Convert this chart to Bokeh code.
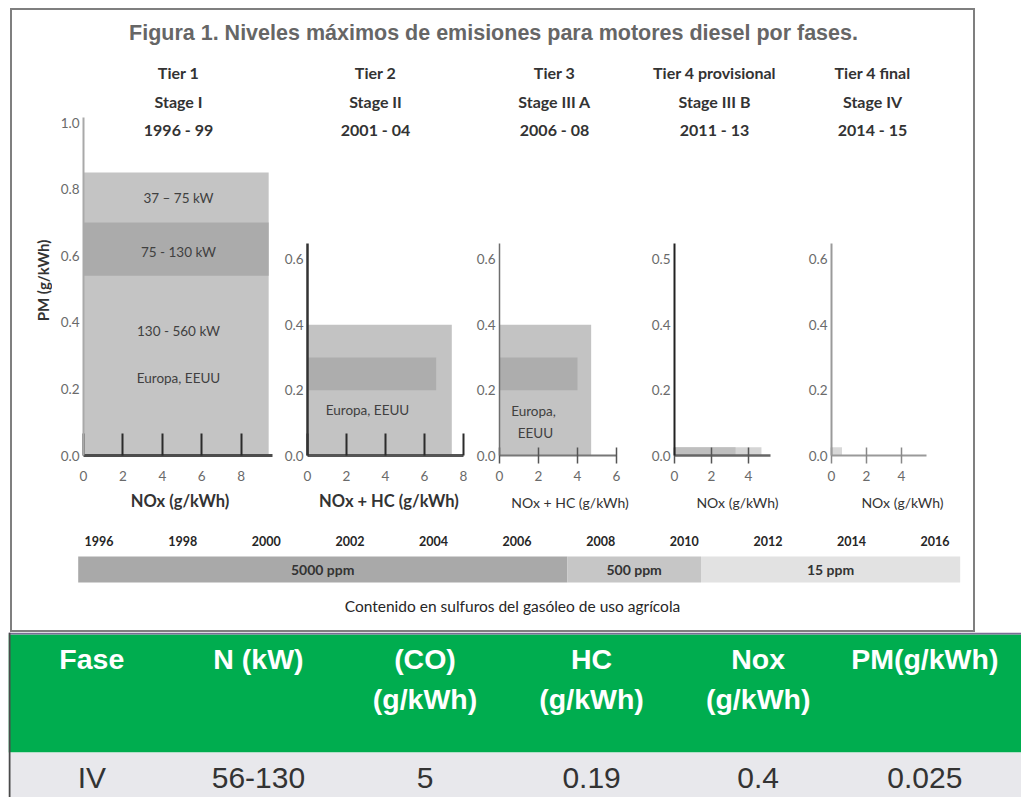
import math
from bokeh.plotting import figure
from bokeh.models import Range1d, FixedTicker, NumeralTickFormatter, Label, Spacer
from bokeh.layouts import row, column
from bokeh.embed import file_html
from bokeh.resources import INLINE
from bokeh.core.properties import value

# ---------------- data ----------------
title_text = "Figura 1. Niveles máximos de emisiones para motores diesel por fases."
tiers = ["Tier 1", "Tier 2", "Tier 3", "Tier 4 provisional", "Tier 4 final"]
stages = ["Stage I", "Stage II", "Stage III A", "Stage III B", "Stage IV"]
periods = ["1996 - 99", "2001 - 04", "2006 - 08", "2011 - 13", "2014 - 15"]
x_titles = ["NOx (g/kWh)", "NOx + HC (g/kWh)", "NOx + HC (g/kWh)", "NOx (g/kWh)", "NOx (g/kWh)"]
y_title = "PM (g/kWh)"

stage1_nox = [9.4, 9.4]
stage1_pm_low = [0.0, 0.54]
stage1_pm_high = [0.85, 0.70]
stage1_notes = ["37 – 75 kW", "75 - 130 kW", "130 - 560 kW", "Europa, EEUU"]

stage2_nox = [7.4, 6.6]
stage2_pm_low = [0.0, 0.2]
stage2_pm_high = [0.4, 0.3]
stage2_notes = ["Europa, EEUU"]

stage3a_nox = [4.7, 4.0]
stage3a_pm_low = [0.0, 0.2]
stage3a_pm_high = [0.4, 0.3]
stage3a_notes = ["Europa,", "EEUU"]

stage3b_nox = [4.7, 3.3]
stage3b_pm_low = [0.0, 0.0]
stage3b_pm_high = [0.025, 0.025]

stage4_nox = [0.6]
stage4_pm_low = [0.0]
stage4_pm_high = [0.025]

x_ticks = [[0, 2, 4, 6, 8], [0, 2, 4, 6, 8], [0, 2, 4, 6], [0, 2, 4], [0, 2, 4]]
y_ticks_big = [0.0, 0.2, 0.4, 0.6, 0.8, 1.0]
y_ticks_small = [0.0, 0.2, 0.4, 0.6]

years = [1996, 1998, 2000, 2002, 2004, 2006, 2008, 2010, 2012, 2014, 2016]
sulfur_labels = ["5000 ppm", "500 ppm", "15 ppm"]
sulfur_from = [1995.5, 2007.2, 2010.4]
sulfur_to = [2007.2, 2010.4, 2016.6]
sulfur_caption = "Contenido en sulfuros del gasóleo de uso agrícola"

table_header = ["Fase", "N (kW)", "(CO)\n(g/kWh)", "HC\n(g/kWh)", "Nox\n(g/kWh)", "PM(g/kWh)"]
table_values = ["IV", "56-130", "5", "0.19", "0.4", "0.025"]

# ---------------- layout / style ----------------
FONT = "Lato"
NARROW = "Liberation Sans"
AXIS_Y = 455
PANEL_TOP = 48
SMALL_TOP = 140
PANEL_BOTTOM = 520

panel_cfg = [
    dict(left=52, width=224, axis=83, sx=19.7, sy=333.0, xb=9.6, yb=1.015, hx=178,
         yline=("#a9a9a9", 2), xline=("#4d4d4d", 3), tin=22, tout=0, tcol="#2b2b2b",
         xl_size="16.5px", xl_style="bold", colors=["#c4c4c4", "#ababab"]),
    dict(left=276, width=194, axis=307, sx=19.5, sy=326.7, xb=8.0, yb=0.649, hx=375,
         yline=("#333333", 2.5), xline=("#555555", 3), tin=22, tout=0, tcol="#2b2b2b",
         xl_size="16.5px", xl_style="bold", colors=["#c3c3c3", "#adadad"]),
    dict(left=470, width=170, axis=499, sx=19.5, sy=326.7, xb=6.0, yb=0.649, hx=554,
         yline=("#6e6e6e", 1.5), xline=("#777777", 2), tin=8, tout=8, tcol="#555555",
         xl_size="14px", xl_style="normal", colors=["#c3c3c3", "#adadad"]),
    dict(left=640, width=160, axis=674, sx=18.5, sy=326.7, xb=5.2, yb=0.649, hx=714,
         yline=("#222222", 2), xline=("#666666", 2.5), tin=8, tout=8, tcol="#555555",
         xl_size="14px", xl_style="normal", colors=["#d5d5d5", "#bfbfbf"]),
    dict(left=800, width=173, axis=831, sx=17.5, sy=326.7, xb=5.4, yb=0.649, hx=872,
         yline=("#9a9a9a", 2), xline=("#9a9a9a", 2), tin=8, tout=8, tcol="#888888",
         xl_size="14px", xl_style="normal", colors=["#d8d8d8"]),
]
boxes = [
    (stage1_nox, stage1_pm_low, stage1_pm_high),
    (stage2_nox, stage2_pm_low, stage2_pm_high),
    (stage3a_nox, stage3a_pm_low, stage3a_pm_high),
    (stage3b_nox, stage3b_pm_low, stage3b_pm_high),
    (stage4_nox, stage4_pm_low, stage4_pm_high),
]
note_pos = [
    (stage1_notes, [(178, 197), (178, 251), (178, 330), (178, 377)]),
    (stage2_notes, [(367, 409)]),
    (stage3a_notes, [(533, 410), (535, 432)]),
    ([], []),
    ([], []),
]
header_y = [72, 101, 129]
HEAD_SIZE = "16px"


def bare(p):
    p.xgrid.visible = False
    p.ygrid.visible = False
    p.outline_line_color = None
    p.background_fill_color = "white"
    p.border_fill_color = "white"


def strip(width, height, x0, x1, x_range=None):
    p = figure(width=width, height=height,
               x_range=x_range if x_range is not None else Range1d(x0, x1),
               y_range=Range1d(0, height), x_axis_type=None, y_axis_type=None,
               min_border=0, title=None, output_backend="svg", toolbar_location=None)
    bare(p)
    return p


panel_figs = []
for i, cfg in enumerate(panel_cfg):
    top = PANEL_TOP if i == 0 else SMALL_TOP
    ml = cfg["axis"] - cfg["left"]
    frame_w = cfg["width"] - ml
    frame_h = AXIS_Y - top
    p = figure(width=cfg["width"], height=PANEL_BOTTOM - top,
               x_range=Range1d(0, frame_w / cfg["sx"]), y_range=Range1d(0, frame_h / cfg["sy"]),
               min_border_left=ml, min_border_right=0, min_border_top=0,
               min_border_bottom=PANEL_BOTTOM - AXIS_Y, title=None,
               output_backend="svg", toolbar_location=None)
    bare(p)
    nox, lo, hi = boxes[i]
    p.quad(left=[0] * len(nox), right=nox, bottom=lo, top=hi,
           fill_color=cfg["colors"][:len(nox)], line_color=None)

    def to_data(px, py, cfg=cfg):
        return (px - cfg["axis"]) / cfg["sx"], (AXIS_Y - py) / cfg["sy"]

    notes, pos = note_pos[i]
    if notes:
        p.text(x=[to_data(*q)[0] for q in pos], y=[to_data(*q)[1] for q in pos], text=notes,
               text_align="center", text_baseline="middle",
               text_font=value(FONT), text_font_size="13.5px", text_color="#404040")

    if i == 0:
        for line_txt, py in zip([tiers[i], stages[i], periods[i]], header_y):
            hx, hy = to_data(cfg["hx"], py)
            p.add_layout(Label(x=hx, y=hy, text=line_txt, text_align="center",
                               text_baseline="middle", text_font=FONT, text_font_style="bold",
                               text_font_size=HEAD_SIZE, text_color="#333333"))

    xa = p.xaxis[0]
    xa.bounds = (0, cfg["xb"])
    xa.ticker = FixedTicker(ticks=x_ticks[i])
    xa.axis_line_color = cfg["xline"][0]
    xa.axis_line_width = cfg["xline"][1]
    xa.major_tick_in = cfg["tin"]
    xa.major_tick_out = cfg["tout"]
    xa.major_tick_line_color = cfg["tcol"]
    xa.major_tick_line_width = 2 if cfg["tin"] > 10 else 1.5
    xa.minor_tick_line_color = None
    xa.major_label_text_font = FONT
    xa.major_label_text_font_size = "13.5px"
    xa.major_label_text_color = "#6a6a6a"
    xa.major_label_standoff = 15 if cfg["tout"] == 0 else 7
    xa.axis_label = x_titles[i]
    xa.axis_label_text_font = FONT
    xa.axis_label_text_font_size = cfg["xl_size"]
    xa.axis_label_text_font_style = cfg["xl_style"]
    xa.axis_label_text_color = "#333333"
    xa.axis_label_standoff = 7 if cfg["tout"] == 0 else 10

    ya = p.yaxis[0]
    ya.bounds = (0, cfg["yb"])
    ya.ticker = FixedTicker(ticks=y_ticks_big if i == 0 else y_ticks_small)
    ya.formatter = NumeralTickFormatter(format="0.0")
    if i == 3:
        ya.major_label_overrides = {0.6: "0.5"}
    ya.axis_line_color = cfg["yline"][0]
    ya.axis_line_width = cfg["yline"][1]
    ya.major_tick_in = 0
    ya.major_tick_out = 0
    ya.minor_tick_line_color = None
    ya.major_label_text_font = FONT
    ya.major_label_text_font_size = "13.5px"
    ya.major_label_text_color = "#6a6a6a"
    ya.major_label_standoff = 4
    panel_figs.append(p)

# y-axis title strip (left of panel 1)
ylab = strip(40, PANEL_BOTTOM - PANEL_TOP, 12, 52)
ylab.text(x=[42], y=[PANEL_BOTTOM - 317], text=[y_title], angle=math.pi / 2,
          text_align="center", text_baseline="middle", text_font=value(FONT),
          text_font_style="bold", text_font_size="15px", text_color="#333333")

# headers of panels 2-5
head = strip(973 - 276, SMALL_TOP - PANEL_TOP, 276, 973)
for j in range(1, 5):
    head.text(x=[panel_cfg[j]["hx"]] * 3, y=[SMALL_TOP - yy for yy in header_y],
              text=[tiers[j], stages[j], periods[j]], text_align="center",
              text_baseline="middle", text_font=value(FONT), text_font_style="bold",
              text_font_size=HEAD_SIZE, text_color="#333333")

# ---------------- title strip ----------------
t = strip(961, 38, 12, 973)
t.text(x=[493], y=[48 - 32], text=[title_text], text_align="center", text_baseline="middle",
       text_font=value("Liberation Sans"), text_font_style="bold", text_font_size="21.5px",
       text_color="#666666")

# ---------------- sulphur timeline ----------------
YR0, YR_PX, YR_X = 1996, 41.8, 98.6
tl = strip(961, 110, 0, 1,
           x_range=Range1d(YR0 - (YR_X - 12) / YR_PX, YR0 + (973 - YR_X) / YR_PX))
TL_B = 630
tl.text(x=years, y=[TL_B - 540] * len(years), text=[str(y) for y in years],
        text_align="center", text_baseline="middle", text_font=value(FONT),
        text_font_style="bold", text_font_size="12.5px", text_color="#262626")
tl.quad(left=sulfur_from, right=sulfur_to, top=[TL_B - 556] * 3, bottom=[TL_B - 582] * 3,
        fill_color=["#a9a9a9", "#c6c6c6", "#e2e2e2"], line_color=None)
tl.text(x=[(a + b) / 2 for a, b in zip(sulfur_from, sulfur_to)], y=[TL_B - 569] * 3,
        text=sulfur_labels, text_align="center", text_baseline="middle", text_font=value(FONT),
        text_font_style="bold", text_font_size="14px", text_color="#333333")
tl.text(x=[YR0 + (512 - YR_X) / YR_PX], y=[TL_B - 605], text=[sulfur_caption],
        text_align="center", text_baseline="middle", text_font=value(FONT),
        text_font_size="15.5px", text_color="#262626")

# ---------------- table ----------------
COL_PX = 166.6
TB_W, TB_H, TB_B = 1013, 165, 797
tb = strip(TB_W, TB_H, 0, 1, x_range=Range1d(0, TB_W / COL_PX))
ncol = len(table_header)
tb.quad(left=[0, 0, 0, 0], right=[TB_W / COL_PX] * 3 + [2 / COL_PX],
        bottom=[TB_B - 752, TB_B - 634, 0, 0], top=[TB_B - 634, TB_B - 632, TB_B - 752, TB_B - 632],
        fill_color=["#00ad4f", "#7b6c95", "#e8e8ec", "#4a4a4a"], line_color=None)
tb.text(x=[i + 0.5 for i in range(ncol)], y=[TB_B - 642] * ncol, text=table_header,
        text_align="center", text_baseline="top", text_font=value(NARROW),
        text_font_style="bold", text_font_size="28.5px", text_color="white",
        text_line_height=1.28)
tb.text(x=[i + 0.5 for i in range(ncol)], y=[TB_B - 777] * ncol, text=table_values,
        text_align="center", text_baseline="middle", text_font=value(NARROW),
        text_font_size="30px", text_color="#333333")

panels = row(ylab, panel_figs[0], column(head, row(*panel_figs[1:], spacing=0), spacing=0),
             spacing=0)
framed = column(t, panels, tl, spacing=0, styles={"border": "2px solid #7f7f7f"})
page = column(Spacer(width=10, height=8),
              row(Spacer(width=10, height=10), framed, spacing=0),
              row(Spacer(width=8, height=10), tb, spacing=0),
              spacing=0)

open("out.html", "w").write(file_html(page, INLINE, title="Figura 1"))
